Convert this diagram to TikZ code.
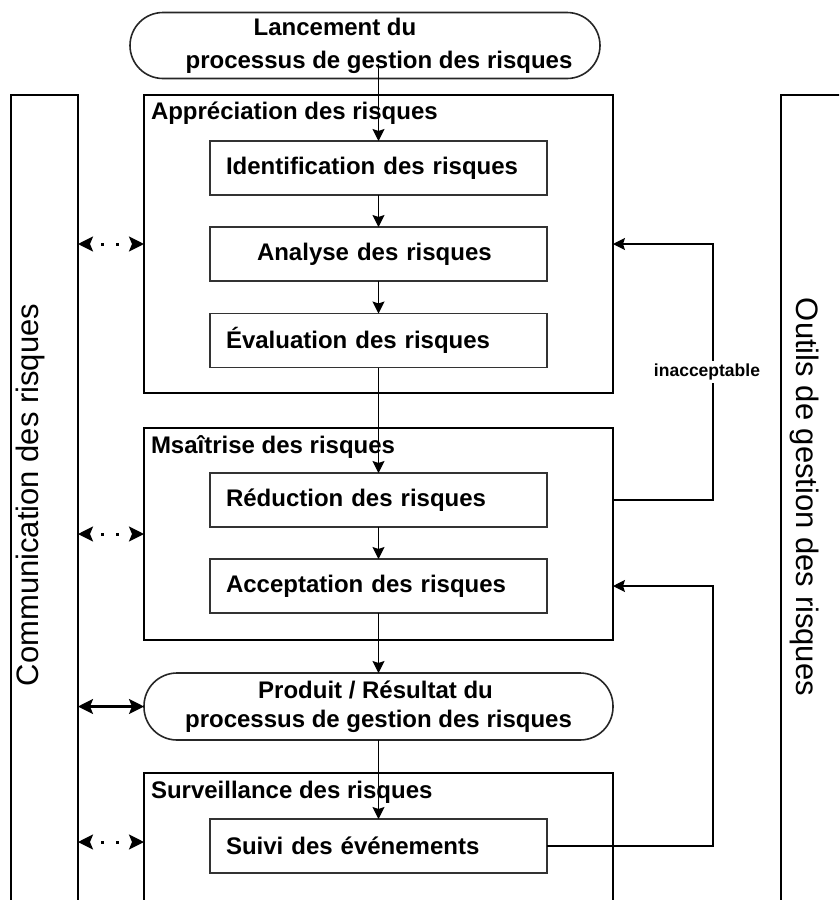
\documentclass[tikz,border=0pt]{standalone}
\usepackage{fontspec}
\setmainfont{Liberation Sans}
\usetikzlibrary{arrows.meta,calc}

\begin{document}
\begin{tikzpicture}[x=1pt,y=-1pt,
  every node/.style={inner sep=0pt, outer sep=0pt},
  frame/.style={draw=black, line width=2.6pt, rectangle, minimum width=469pt},
  column/.style={draw=black, line width=2.6pt, rectangle, minimum height=905pt},
  stepbox/.style={draw=black!80, line width=1.6pt, rectangle,
    minimum width=337pt, minimum height=54pt, text width=305pt, align=left,
    font=\fontsize{24}{29}\selectfont\bfseries},
  stadium/.style={draw=black!85, line width=1.6pt, rectangle, align=center,
    font=\bfseries},
  heading/.style={anchor=base west, font=\fontsize{24}{29}\selectfont\bfseries},
  sidetext/.style={font=\fontsize{31}{36}\selectfont},
  conn/.style={draw=black, line width=1.3pt},
  tip/.style={-{Stealth[length=12pt,width=12pt,inset=2pt]}},
  both/.style={{Stealth[length=15pt,width=15pt,inset=3pt]}-{Stealth[length=15pt,width=15pt,inset=3pt]}},
  tipsonly/.style={both, line width=2.4pt, dash pattern=on 0pt off 200pt},
  dots/.style={line width=3pt, dash pattern=on 3pt off 12pt, shorten <=23pt, shorten >=24pt},
  sollink/.style={both, line width=2.4pt},
  lbl/.style={fill=white, inner sep=3pt, font=\fontsize{17.5}{20}\selectfont\bfseries}
]
\useasboundingbox (0,0) rectangle (839,900);
\clip (0,0) rectangle (839,900);
\fill[white] (0,0) rectangle (839,900);

% side columns
\node[column, minimum width=67pt] (comm) at (44.5,547.5) {};
\node[sidetext, rotate=90] (commT) at (30,495) {Communication des risques};
\node[column, minimum width=119pt] (tools) at (840.5,547.5) {};
\node[sidetext, rotate=-90] (toolsT) at (805,497) {Outils de gestion des risques};

% start of the process
\node[stadium, rounded corners=33pt, minimum width=470pt, minimum height=66pt,
  font=\fontsize{24}{33}\selectfont\bfseries] (launch) at (365,45.5)
  {\hspace*{-60pt}Lancement du\\\hspace*{28pt}processus de gestion des risques};
\coordinate (launchpt) at (378.5,64);

% risk assessment
\node[frame, minimum height=298pt] (appr) at (378.5,244) {};
\node[heading] (apprT) at (151,119) {Appréciation des risques};
\node[stepbox] (ident) at (378.5,168) {Identification des risques};
\node[stepbox] (analyse) at (378.5,254) {\hspace*{31pt}Analyse des risques};
\node[stepbox] (evalu) at (378.5,340.5) {Évaluation des risques};

% risk control
\node[frame, minimum height=212pt] (maitr) at (378.5,534) {};
\node[heading] (maitrT) at (151,453) {Msaîtrise des risques};
\node[stepbox] (reduc) at (378.5,500) {Réduction des risques};
\node[stepbox] (accept) at (378.5,586) {Acceptation des risques};

% output
\node[stadium, rounded corners=33pt, minimum width=469pt, minimum height=67pt,
  font=\fontsize{24}{29}\selectfont\bfseries] (prod) at (378.5,706.5)
  {\hspace*{-6pt}Produit / Résultat du\\processus de gestion des risques};

% risk review
\node[frame, minimum height=240pt] (surv) at (378.5,893) {};
\node[heading] (survT) at (151,798) {Surveillance des risques};
\node[stepbox] (suivi) at (378.5,846) {Suivi des événements};

% main flow
\draw[conn, tip] (launchpt) -- (ident.north);
\draw[conn, tip] (ident) -- (analyse);
\draw[conn, tip] (analyse) -- (evalu);
\draw[conn, tip] (evalu) -- (reduc);
\draw[conn, tip] (reduc) -- (accept);
\draw[conn, tip] (accept) -- (prod);
\draw[conn, tip] (prod) -- (suivi);

% feedback loops
\coordinate (loopx) at (713,0);
\draw[conn, tip] (maitr.east |- reduc.center) -- (loopx |- reduc.center)
  -- node[lbl, xshift=-6pt] (inacc) {inacceptable} (loopx |- appr.east) -- (appr.east);
\draw[conn, tip] (suivi.east) -- (loopx |- suivi.center)
  -- (loopx |- accept.center) -- (maitr.east |- accept.center);

% communication links: dotted two-way arrows and one solid one
\coordinate (survy) at (0,842);
\foreach \a/\b in {{comm.east |- appr.west}/appr.west,
                   {comm.east |- maitr.west}/maitr.west,
                   {comm.east |- survy}/{surv.west |- survy}} {
  \draw[dots] (\a) -- (\b);
  \draw[tipsonly] (\a) -- (\b);
}
\draw[sollink] (comm.east |- prod.west) -- (prod.west);
\end{tikzpicture}
\end{document}
